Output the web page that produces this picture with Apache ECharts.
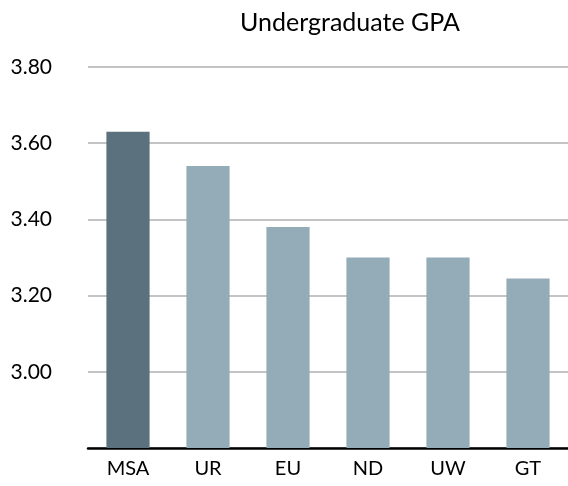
<!DOCTYPE html>
<html><head><meta charset="utf-8">
<script src="https://cdn.jsdelivr.net/npm/echarts@6/dist/echarts.min.js"></script>
<style>html,body{margin:0;padding:0;background:#fff}#c{width:568px;height:486px}</style>
</head><body><div id="c"></div>
<script>
const categories = ['MSA', 'UR', 'EU', 'ND', 'UW', 'GT'];
const gpaValues = [3.63, 3.54, 3.38, 3.30, 3.30, 3.245];
const highlightIndex = 0;
const colors = { highlight: '#5b717e', normal: '#93acb8' };

const chart = echarts.init(document.getElementById('c'));
chart.setOption({
  animation: false,
  title: {
    text: 'Undergraduate GPA', left: 345, textAlign: 'center', top: 5,
    textStyle: { fontFamily: 'Lato', fontSize: 25, fontWeight: 'normal', color: '#000' }
  },
  grid: { left: 88, right: 0, top: 67, bottom: 38 },
  xAxis: {
    type: 'category', data: categories,
    axisLine: { lineStyle: { color: '#000', width: 2.5 } },
    axisTick: { show: false },
    axisLabel: { fontFamily: 'Lato', fontSize: 20, color: '#000', margin: 11 }
  },
  yAxis: {
    type: 'value', min: 2.8, max: 3.8, interval: 0.2,
    axisLine: { show: false }, axisTick: { show: false },
    splitLine: { lineStyle: { color: '#c4c4c4', width: 2 } },
    axisLabel: {
      fontFamily: 'Lato', fontSize: 21, color: '#000', margin: 36,
      formatter: v => v < 2.9 ? '' : v.toFixed(2)
    }
  },
  series: [{
    type: 'bar', barWidth: '54%',
    data: gpaValues.map((v, i) => ({ value: v, itemStyle: { color: i === highlightIndex ? colors.highlight : colors.normal } }))
  }]
});
</script></body></html>
